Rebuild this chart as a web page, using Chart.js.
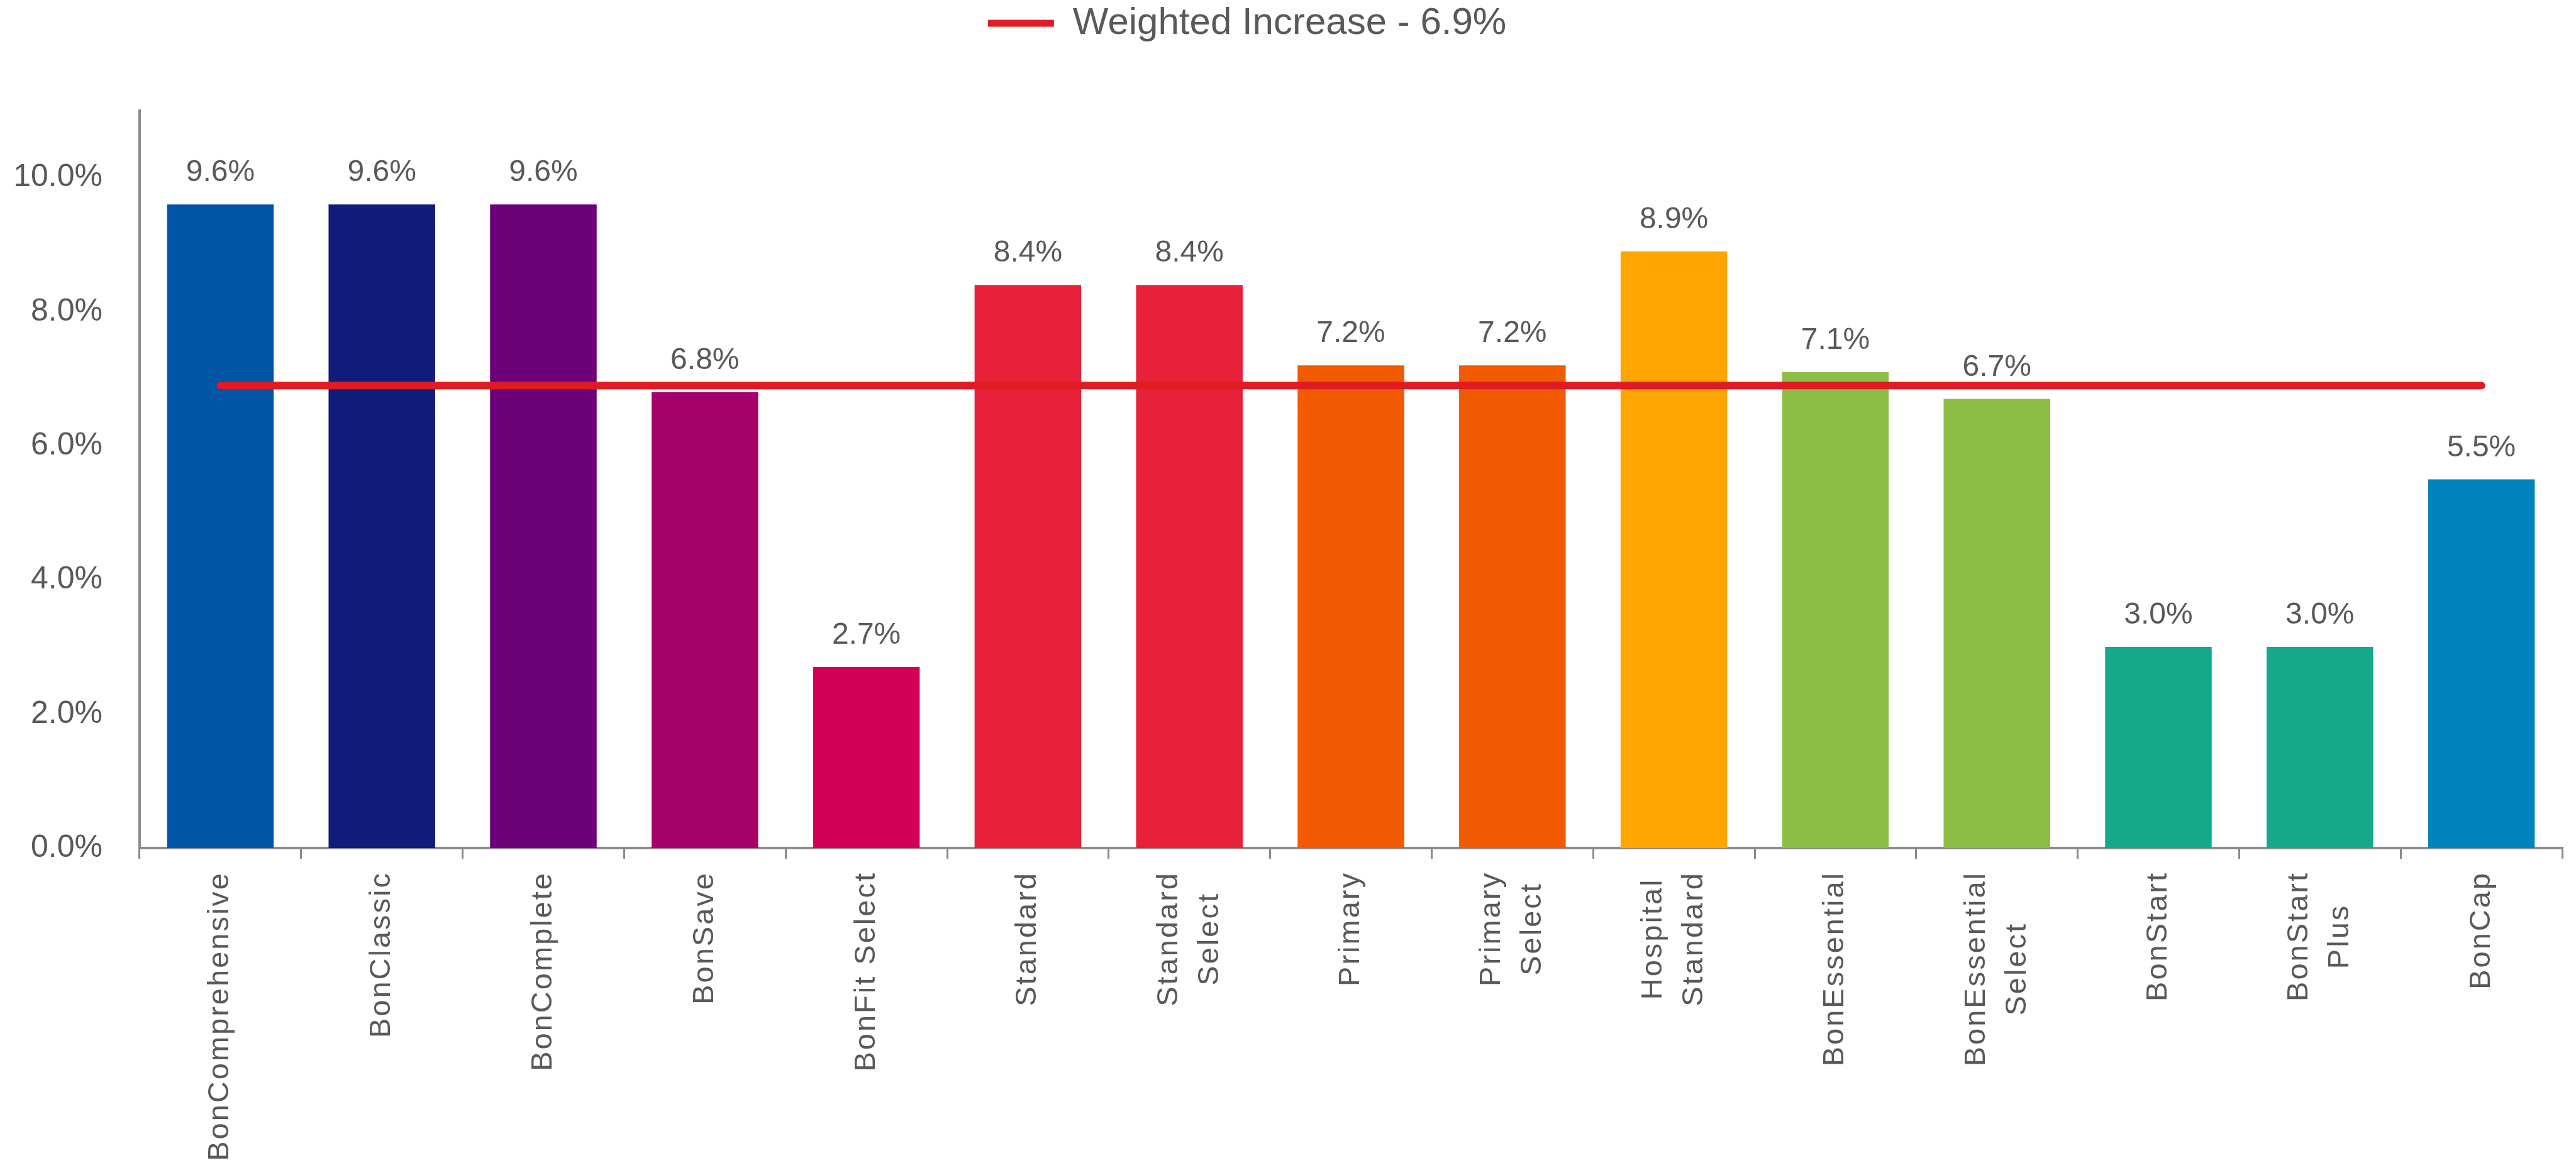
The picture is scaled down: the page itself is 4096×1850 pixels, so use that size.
<!DOCTYPE html>
<html>
<head>
<meta charset="utf-8">
<title>Weighted Increase by option</title>
<script src="https://cdn.jsdelivr.net/npm/chart.js@4.4.1/dist/chart.umd.min.js"></script>
<style>
  html, body { margin: 0; padding: 0; background: #ffffff; }
  #wrap { width: 4096px; height: 1850px; position: relative; }
</style>
</head>
<body>
<div id="wrap"><canvas id="increaseChart"></canvas></div>
<script>
// option names (array = two-line label)
const categories = [
  'BonComprehensive', 'BonClassic', 'BonComplete', 'BonSave', 'BonFit Select',
  'Standard', ['Standard', 'Select'], 'Primary', ['Primary', 'Select'], ['Hospital', 'Standard'],
  'BonEssential', ['BonEssential', 'Select'], 'BonStart', ['BonStart', 'Plus'], 'BonCap'
];
const increases = [9.6, 9.6, 9.6, 6.8, 2.7, 8.4, 8.4, 7.2, 7.2, 8.9, 7.1, 6.7, 3.0, 3.0, 5.5];
const weighted = [6.9, 6.9, 6.9, 6.9, 6.9, 6.9, 6.9, 6.9, 6.9, 6.9, 6.9, 6.9, 6.9, 6.9, 6.9];
const weightedLabel = 'Weighted Increase - 6.9%';
const barColors = [
  '#0055A5', '#111D7B', '#6B0079', '#A6006B', '#D10055',
  '#E8213A', '#E8213A', '#F15A00', '#F15A00', '#FFA500',
  '#8CBD45', '#8CBD45', '#14A98B', '#14A98B', '#0084BD'
];
const yTicks = [0, 2, 4, 6, 8, 10];

const textColor = '#58595B';
const axisColor = '#8A8A8A';
const lineRed = '#E01B24';
const fontFamily = '"Liberation Sans", Arial, Helvetica, sans-serif';

// push the plot area down under the legend
const legendSpace = {
  id: 'legendSpace',
  beforeInit(chart) {
    const fit = chart.legend.fit;
    chart.legend.fit = function () {
      fit.bind(chart.legend)();
      this.height = 176;
    };
  },
  afterLayout(chart) {
    // legend sits a bit left of the page centre
    chart.legend.right -= 108;
  }
};

// "9.6%" style labels over each bar
const barValues = {
  id: 'barValues',
  afterDatasetsDraw(chart) {
    const ctx = chart.ctx;
    const meta = chart.getDatasetMeta(0);
    ctx.save();
    ctx.font = '48px ' + fontFamily;
    ctx.fillStyle = textColor;
    ctx.textAlign = 'center';
    ctx.textBaseline = 'alphabetic';
    meta.data.forEach((bar, i) => {
      ctx.fillText(increases[i].toFixed(1) + '%', bar.x, bar.y - 37);
    });
    ctx.restore();
  }
};

// vertical category labels, lines centred on each other
const categoryLabels = {
  id: 'categoryLabels',
  afterDraw(chart) {
    const ctx = chart.ctx;
    const xs = chart.scales.x;
    const lineH = 65;
    ctx.save();
    ctx.font = '47px ' + fontFamily;
    ctx.letterSpacing = '3px';
    ctx.fillStyle = textColor;
    ctx.textAlign = 'center';
    ctx.textBaseline = 'middle';
    categories.forEach((lab, i) => {
      const lines = Array.isArray(lab) ? lab : [lab];
      const w = Math.max(...lines.map(l => ctx.measureText(l).width));
      const x = xs.getPixelForValue(i);
      ctx.save();
      ctx.translate(x, xs.top + 37 + w / 2);
      ctx.rotate(-Math.PI / 2);
      lines.forEach((l, j) => {
        ctx.fillText(l, 0, (j - (lines.length - 1) / 2) * lineH);
      });
      ctx.restore();
    });
    ctx.restore();
  }
};

new Chart(document.getElementById('increaseChart'), {
  data: {
    labels: categories,
    datasets: [
      {
        type: 'bar',
        label: 'Increase',
        data: increases,
        backgroundColor: barColors,
        borderWidth: 0,
        barPercentage: 0.66,
        categoryPercentage: 1,
        order: 1
      },
      {
        type: 'line',
        label: weightedLabel,
        data: weighted,
        borderColor: lineRed,
        backgroundColor: lineRed,
        borderWidth: 12,
        borderCapStyle: 'round',
        pointRadius: 0,
        tension: 0,
        fill: false,
        order: 0
      }
    ]
  },
  options: {
    responsive: true,
    maintainAspectRatio: false,
    devicePixelRatio: 1,
    animation: false,
    layout: { padding: { top: 0, right: 22, bottom: 0, left: 0 } },
    plugins: {
      legend: {
        display: true,
        position: 'top',
        align: 'center',
        labels: {
          padding: 7,
          boxWidth: 105,
          boxHeight: 11,
          color: textColor,
          font: { family: fontFamily, size: 60 },
          generateLabels: () => [{
            text: weightedLabel,
            fillStyle: lineRed,
            strokeStyle: lineRed,
            fontColor: textColor,
            lineWidth: 0,
            datasetIndex: 1,
            hidden: false
          }]
        }
      },
      tooltip: { enabled: false }
    },
    scales: {
      x: {
        type: 'category',
        offset: true,
        grid: {
          display: true,
          drawOnChartArea: false,
          drawTicks: true,
          tickLength: 17,
          color: axisColor,
          lineWidth: 3,
          offset: true
        },
        border: { display: true, color: axisColor, width: 4 },
        ticks: { display: false },
        afterFit: (s) => { s.height = 501; }
      },
      y: {
        min: 0,
        max: 11,
        grid: { display: false },
        border: { display: true, color: axisColor, width: 4 },
        ticks: {
          stepSize: 2,
          includeBounds: false,
          padding: 51,
          color: textColor,
          font: { family: fontFamily, size: 50 },
          callback: (v) => yTicks.includes(v) ? v.toFixed(1) + '%' : ''
        },
        afterFit: (s) => { s.width = 222; }
      }
    }
  },
  plugins: [legendSpace, barValues, categoryLabels]
});
</script>
</body>
</html>
